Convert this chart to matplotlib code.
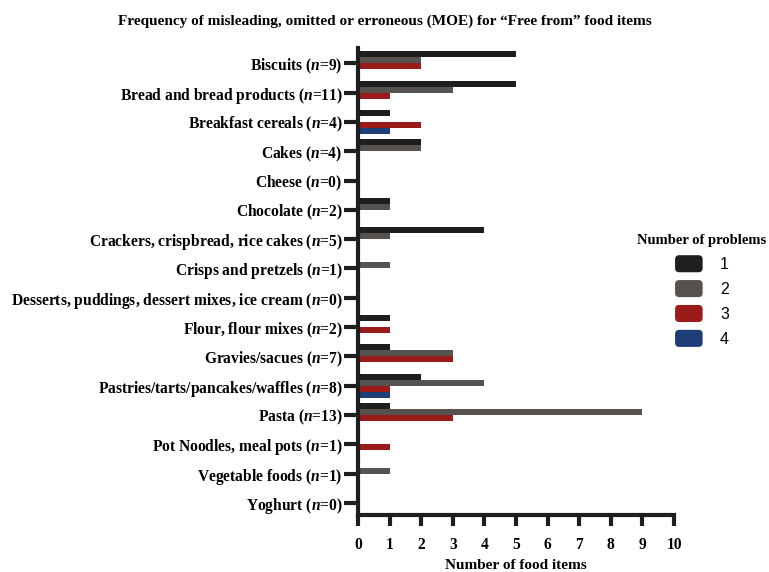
import numpy as np
import matplotlib.pyplot as plt
from matplotlib.patches import FancyBboxPatch, Patch
from matplotlib.legend_handler import HandlerPatch

plt.rcParams["font.family"] = ["Liberation Serif", "DejaVu Serif"]
plt.rcParams["font.weight"] = "bold"
plt.rcParams["axes.labelweight"] = "bold"
plt.rcParams["mathtext.fontset"] = "custom"
plt.rcParams["mathtext.it"] = "Liberation Serif:italic:bold"
plt.rcParams["mathtext.rm"] = "Liberation Serif:bold"

# --- data -------------------------------------------------------------------
categories = [
    "Biscuits", "Bread and bread products", "Breakfast cereals", "Cakes",
    "Cheese", "Chocolate", "Crackers, crispbread, rice cakes",
    "Crisps and pretzels", "Desserts, puddings, dessert mixes, ice cream",
    "Flour, flour mixes", "Gravies/sacues", "Pastries/tarts/pancakes/waffles",
    "Pasta", "Pot Noodles, meal pots", "Vegetable foods", "Yoghurt",
]
n_items = [9, 11, 4, 4, 0, 2, 5, 1, 0, 2, 7, 8, 13, 1, 1, 0]

one_problem = [5, 5, 1, 2, 0, 1, 4, 0, 0, 1, 1, 2, 1, 0, 0, 0]
two_problems = [2, 3, 0, 2, 0, 1, 1, 1, 0, 0, 3, 4, 9, 0, 1, 0]
three_problems = [2, 1, 2, 0, 0, 0, 0, 0, 0, 1, 3, 1, 3, 1, 0, 0]
four_problems = [0, 0, 1, 0, 0, 0, 0, 0, 0, 0, 0, 1, 0, 0, 0, 0]

series = [one_problem, two_problems, three_problems, four_problems]
series_labels = ["1", "2", "3", "4"]
colors = ["#1e1e1e", "#56524f", "#9a1b19", "#1f3e78"]

fig = plt.figure(figsize=(7.69, 5.72), dpi=100)
ax = fig.add_axes([0.4655, 0.0997, 0.411, 0.8163])

y = np.arange(len(categories))
h = 0.205
for i, (vals, c) in enumerate(zip(series, colors)):
    ax.barh(y + (i - 1.5) * h, vals, height=h, color=c, linewidth=0)

ax.set_ylim(15.41, -0.52)
ax.set_xlim(0, 10)
ax.set_xticks(np.arange(0, 11, 1))
ax.set_yticks(y)
ax.set_yticklabels([f"{c} ($n$={n})" for c, n in zip(categories, n_items)],
                   fontsize=11.2)

for side in ("top", "right"):
    ax.spines[side].set_visible(False)
for side in ("left", "bottom"):
    ax.spines[side].set_linewidth(3.0)
    ax.spines[side].set_color("#1e1e1e")
ax.tick_params(axis="y", length=10, width=3, color="#1e1e1e", pad=1)
ax.tick_params(axis="x", length=8, width=3, color="#1e1e1e", pad=8,
               labelsize=11.2)

ax.set_xlabel("Number of food items", fontsize=11, labelpad=4)
fig.text(0.5, 0.962, "Frequency of misleading, omitted or erroneous (MOE) for \u201cFree from\u201d food items",
         ha="center", va="center", fontsize=11)


class RoundedHandler(HandlerPatch):
    def create_artists(self, legend, orig_handle, xdescent, ydescent,
                       width, height, fontsize, trans):
        p = FancyBboxPatch((-xdescent + 1, -ydescent - 1), width - 2, height + 2,
                           boxstyle="round,pad=0,rounding_size=3",
                           facecolor=orig_handle.get_facecolor(),
                           edgecolor="none", transform=trans)
        return [p]


handles = [Patch(facecolor=c) for c in colors]
leg = fig.legend(handles, series_labels, title="Number of problems",
                 loc="center", bbox_to_anchor=(0.912, 0.492), frameon=False,
                 handler_map={Patch: RoundedHandler()},
                 handlelength=1.9, handleheight=1.0, labelspacing=0.58,
                 handletextpad=1.0,
                 prop={"family": "Liberation Sans", "weight": "normal", "size": 11.5})
leg.get_title().set_fontsize(10.5)
leg.get_title().set_fontweight("bold")

fig.savefig("out.png", dpi=100)
